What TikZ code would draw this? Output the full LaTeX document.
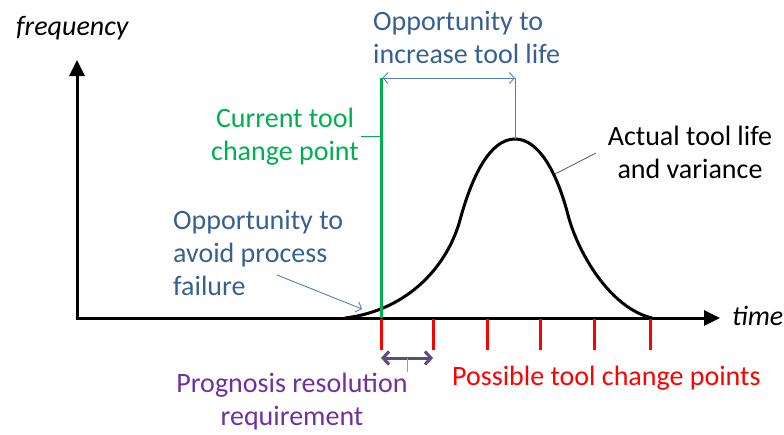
\documentclass[tikz,border=0pt]{standalone}
\usepackage{fontspec}
\setmainfont{Carlito}
\usetikzlibrary{arrows.meta,positioning}

\definecolor{oppblue}{RGB}{55,96,146}
\definecolor{lineblue}{RGB}{79,129,189}
\definecolor{curgreen}{RGB}{0,176,80}
\definecolor{resviolet}{RGB}{112,48,160}
\definecolor{resarrow}{RGB}{96,74,123}

\tikzstyle{txt} = [inner sep=0pt, font=\fontsize{28}{33}\selectfont]
\tikzstyle{axislabel} = [inner sep=0pt, font=\fontsize{28}{33}\selectfont\itshape]
\tikzstyle{axis} = [line width=3pt, -{Triangle[length=16pt,width=15pt]}]
\tikzstyle{barb} = [line width=0.9pt, lineblue, {Straight Barb[length=5pt,width=11pt]}-{Straight Barb[length=5pt,width=11pt]}]

\begin{document}
\begin{tikzpicture}[x=1pt, y=-1pt]
	\useasboundingbox (0,0) rectangle (784,434);

	% axes
	\coordinate (origin) at (77,318);
	\draw[axis] ([yshift=-1.5pt]origin) -- (77,60) coordinate (ytip);
	\draw[axis] ([xshift=-1.5pt]origin) -- (720,318) coordinate (xtip);
	\node[axislabel, anchor=base west](freq) at (16,35) {frequency};
	\node[axislabel, anchor=base west](time) at (732,325) {time};

	% tool life distribution
	\coordinate (peak) at (515,139);
	\draw[line width=3pt] (345,318) .. controls (410,310) and (448,264) .. (460,220)
		.. controls (472,176) and (490,139) .. (peak)
		.. controls (540,139) and (558,176) .. (568,215)
		.. controls (578,253) and (610,308) .. (652,318);
	\coordinate (flank) at (555,174);
	\coordinate (tail) at (362,309);

	% possible change points
	\foreach \x [count=\i] in {381,433,487,540,594,650}
		\draw[red, line width=3pt] (\x,319) -- (\x,350) coordinate (t\i);

	% current change point
	\draw[curgreen, line width=3pt] (381,318) -- (381,78) coordinate (curtop);

	% base anchor sits on the last line
	\node[txt, oppblue, align=left, anchor=base west](inc) at (373,63) {Opportunity to\\increase tool life};
	\node[txt, curgreen, align=center, anchor=base](cur) at (285,160) {Current tool\\change point};
	\node[txt, align=center, anchor=base](act) at (690,178) {Actual tool life\\and variance};
	\node[txt, oppblue, align=left, anchor=base west](avoid) at (173,295) {Opportunity to\\avoid process\\failure};
	\node[txt, resviolet, align=center, anchor=base](prog) at (292,425) {Prognosis resolution\\requirement};
	\node[txt, red, anchor=base west](poss) at (452,385) {Possible tool change points};

	\coordinate (actfoot) at (596,153);
	\coordinate (avoidfoot) at (277,275);

	\draw[barb] ([xshift=1.5pt]curtop) -- (curtop -| peak) coordinate (peakup);
	\draw[lineblue, line width=0.9pt] (peakup) -- (peak);
	\draw[curgreen, line width=0.9pt] ([xshift=2pt]cur.east) -- (cur.east -| curtop);
	\draw[gray!80!black, line width=0.9pt] (flank) -- (actfoot);
	\draw[lineblue, line width=0.9pt, -{Straight Barb[length=5pt,width=11pt]}] (avoidfoot) -- (tail);

	% resolution
	\draw[resarrow, line width=3pt, {Straight Barb[length=6pt,width=13pt]}-{Straight Barb[length=6pt,width=13pt]}]
		([yshift=-8pt]t1) -- coordinate[pos=0.5] (resmid) ([yshift=-8pt]t2);
	\draw[resarrow!60, line width=0.9pt] (resmid) -- (resmid |- prog.north);
\end{tikzpicture}
\end{document}
